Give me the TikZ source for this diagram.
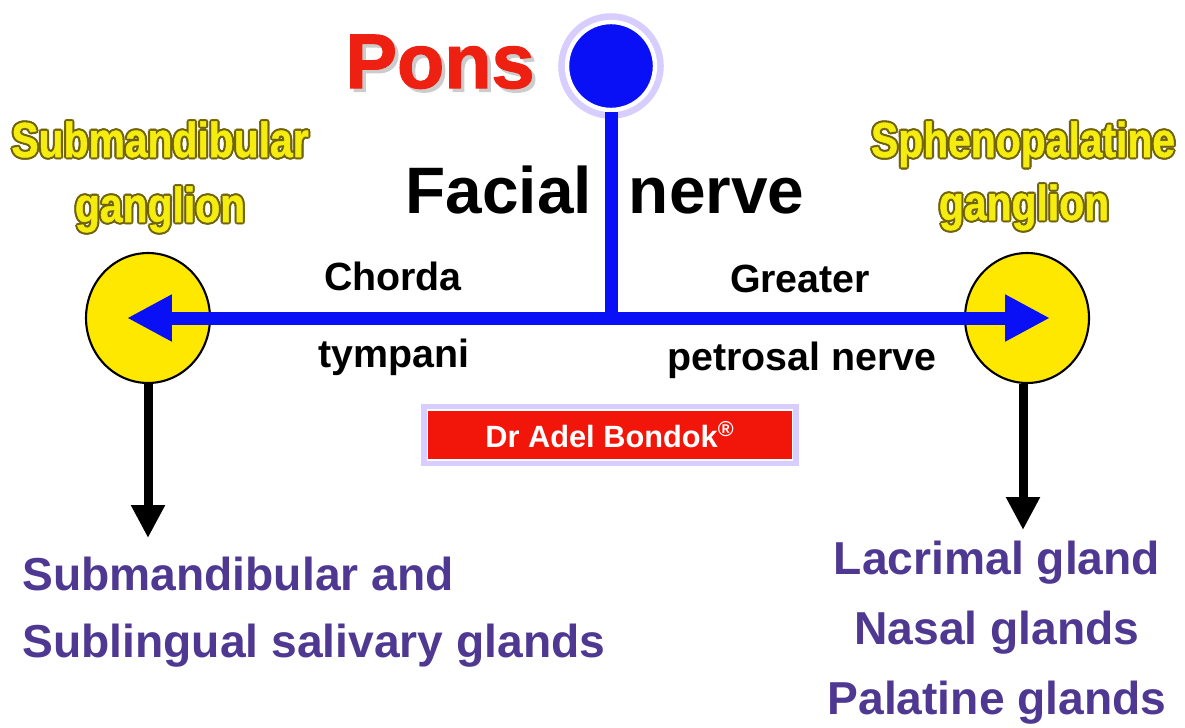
\documentclass[tikz,border=0pt]{standalone}
\usepackage{fontspec}
\setmainfont{Liberation Sans}
\newfontfamily\gangfont{Liberation Sans}[FakeStretch=0.83,BoldFeatures={FakeBold=1}]
\newfontfamily\ponsfont{Liberation Sans}[BoldFeatures={FakeBold=1.6}]
\usepackage{tikz}
\usetikzlibrary{arrows.meta,shapes.geometric}

\definecolor{nerveblue}{RGB}{10,16,245}
\definecolor{gangyellow}{RGB}{255,232,0}
\definecolor{gangtext}{RGB}{245,236,16}
\definecolor{gangedge}{RGB}{112,98,10}
\definecolor{ponsred}{RGB}{238,32,18}
\definecolor{boxred}{RGB}{242,22,10}
\definecolor{glow}{RGB}{190,172,255}
\definecolor{glandpurple}{RGB}{78,56,146}

\newcommand{\edgecopy}[3]{\rlap{\hspace*{#1}\raisebox{#2}{#3}}}
\newcommand{\ringtext}[1]{{\color{gangedge}%
	\edgecopy{1.2pt}{0pt}{#1}\edgecopy{-1.2pt}{0pt}{#1}%
	\edgecopy{0pt}{1.2pt}{#1}\edgecopy{0pt}{-1.2pt}{#1}%
	\edgecopy{.85pt}{.85pt}{#1}\edgecopy{-.85pt}{.85pt}{#1}%
	\edgecopy{.85pt}{-.85pt}{#1}\edgecopy{-.85pt}{-.85pt}{#1}}#1}
\newcommand{\shadowtext}[1]{{\color{gray!40}\edgecopy{2pt}{-2pt}{#1}}#1}

\begin{document}
\begin{tikzpicture}[x=0.02cm,y=-0.02cm,
	nerve/.style={line width=0.26cm,nerveblue},
	nerveboth/.style={nerve,arrows={Triangle[length=0.9cm,width=0.88cm]-Triangle[length=0.9cm,width=0.88cm]}},
	blackout/.style={line width=0.18cm,arrows={-Triangle[length=0.66cm,width=0.64cm]}},
	ganglion/.style={ellipse,draw=black,line width=1.2pt,fill=gangyellow,minimum width=2.48cm,minimum height=2.6cm,inner sep=0},
	ganglabel/.style={anchor=base,text=gangtext,font=\gangfont\bfseries\fontsize{28}{32}\selectfont,inner sep=0},
	branch/.style={anchor=base,font=\bfseries\fontsize{22.4}{26}\selectfont,inner sep=0},
	gland/.style={text=glandpurple,inner sep=0}]
			\useasboundingbox (0,0) rectangle (1185,727);
			
			\node [circle,fill=nerveblue,draw=white,line width=2.5pt,minimum size=1.76cm,inner sep=0,
				preaction={draw=glow,line width=10pt,opacity=0.6}] (pons) at (611,66) {};
			\node [anchor=base,inner sep=0,text=ponsred,font=\ponsfont\bfseries\fontsize{44}{48}\selectfont] (ponstext) at (440,88) {\shadowtext{Pons}};
			
			\node [ganglion] (submand) at (148,318) {};
			\node [ganglion] (spheno) at (1027,318) {};
			
			\coordinate (junc) at (611,318);
			\coordinate (ltip) at (127,318);
			\coordinate (rtip) at (1050,318);
			\coordinate (lgland) at (148,538);
			\coordinate (rgland) at (1023,530);
			
			\draw [blackout] (submand.south) -- (lgland);
			\draw [blackout] (spheno.south -| rgland) -- (rgland);
			
			\draw [nerve] (pons.south) -- (junc);
			\draw [nerveboth] (ltip) -- (rtip);
			
			\node [anchor=base,inner sep=0,font=\bfseries\fontsize{37.4}{40}\selectfont] (facial) at (605,213) {Facial\hspace{21pt}nerve};
			
			\node [branch] (chorda) at (393,290) {Chorda};
			\node [branch] (tympani) at (394,367) {tympani};
			\node [branch] (greater) at (800,292) {Greater};
			\node [branch] (petrosal) at (802,370) {petrosal nerve};
			
			\node [ganglabel] (submandtext) at (160,157) {\ringtext{Submandibular}};
			\node [ganglabel] (submandgang) at (160,222) {\ringtext{ganglion}};
			\node [ganglabel] (sphenotext) at (1023,157) {\ringtext{Sphenopalatine}};
			\node [ganglabel] (sphenogang) at (1024,220) {\ringtext{ganglion}};
			
			\node [fill=boxred,draw=white,line width=1pt,preaction={draw=glow,line width=7pt,opacity=0.6},
				minimum width=7.3cm,minimum height=1cm,text=white,font=\bfseries\fontsize{17.5}{20}\selectfont] (credit) at (610,435) {Dr Adel Bondok\textsuperscript{\textregistered}};
			
			\node [gland,anchor=north west,align=left,font=\bfseries\fontsize{26.3}{38}\selectfont] (salivary) at (22,557) {Submandibular and\\Sublingual salivary glands};
			\node [gland,anchor=north,align=center,font=\bfseries\fontsize{26.3}{39.7}\selectfont] (lacrimal) at (997,541) {Lacrimal gland\\Nasal glands\\Palatine glands};
			
			\end{tikzpicture}
\end{document}
